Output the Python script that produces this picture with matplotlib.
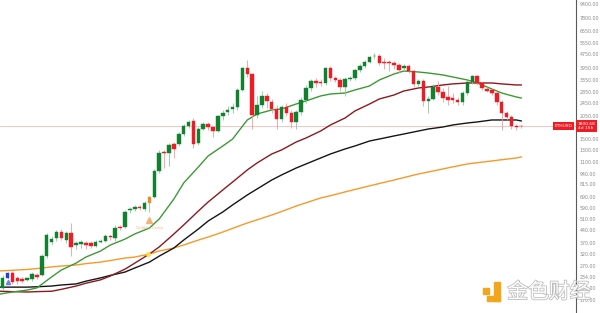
# -*- coding: utf-8 -*-

import matplotlib
matplotlib.use('Agg')
import matplotlib.pyplot as plt
import matplotlib.transforms as mtransforms
import matplotlib.patheffects as pe
from matplotlib.patches import Rectangle
from matplotlib.ticker import NullLocator


# weekly ETHUSD candles
OPENS = [201, 230, 246, 230, 227, 224, 227, 240, 240, 310,
         374, 395, 429, 385, 423, 359, 364, 369, 369, 355,
         374, 380, 406, 395, 459, 459, 577, 585, 601, 585,
         635, 689, 980, 1267, 1250, 1411, 1411, 1616, 1800, 1929,
         1430, 1729, 1852, 1777, 1683, 2064, 2179, 2269, 2331, 2935,
         3950, 3641, 2092, 2395, 2705, 2494, 2269, 1982, 2331, 2150,
         1903, 2179, 2562, 3016, 3314, 3270, 3226, 3950, 3451, 3359,
         3057, 3405, 3451, 3845, 4058, 4289, 4620, 4646, 4289, 4289,
         4230, 4115, 3950, 4058, 3795, 3183, 3314, 2528, 2597, 3057,
         2857, 2668, 2633, 2562, 2494, 2819, 3270, 3545, 3226, 2976,
         2935, 2819, 2494, 2150, 2037, 1800, 1800]
HIGHS = [240, 250, 252, 236, 233, 234, 248, 246, 318, 420,
         405, 440, 445, 435, 484, 380, 385, 378, 380, 382,
         392, 415, 412, 470, 470, 580, 600, 615, 615, 650,
         700, 1000, 1300, 1300, 1430, 1450, 1650, 1850, 1960, 2000,
         1780, 1900, 1900, 1800, 2100, 2250, 2350, 2450, 3000, 4000,
         4400, 3700, 2700, 2900, 2800, 2600, 2400, 2400, 2450, 2250,
         2250, 2650, 3150, 3400, 3450, 3400, 4000, 4050, 3550, 3450,
         3500, 3550, 3900, 4150, 4400, 4650, 4870, 4800, 4500, 4400,
         4350, 4200, 4150, 4150, 3850, 3400, 3400, 2700, 3200, 3300,
         3000, 3100, 2800, 2650, 2900, 3350, 3600, 3600, 3250, 3050,
         2980, 2850, 2550, 2200, 2100, 1850, 1830]
LOWS = [195, 228, 212, 212, 214, 220, 222, 228, 236, 300,
        360, 380, 385, 370, 310, 340, 345, 340, 345, 350,
        368, 372, 385, 380, 440, 450, 555, 570, 575, 570,
        560, 680, 950, 1020, 1050, 1170, 1380, 1580, 1750, 1330,
        1400, 1700, 1700, 1560, 1650, 1950, 2100, 2150, 2250, 2900,
        3500, 1729, 2000, 2300, 2300, 2150, 1729, 1900, 2050, 1750,
        1720, 2100, 2450, 2900, 3050, 3100, 3150, 3300, 3250, 2900,
        2700, 3300, 3350, 3750, 3950, 4200, 4450, 4100, 3900, 3800,
        3900, 3700, 3850, 3700, 3050, 3100, 2360, 2150, 2550, 2750,
        2500, 2400, 2450, 2400, 2400, 2750, 3200, 3150, 2950, 2850,
        2750, 2400, 1706, 1950, 1729, 1700, 1750]
CLOSES = [230, 246, 218, 221, 221, 230, 243, 233, 310, 412,
          390, 429, 395, 423, 350, 369, 374, 359, 355, 374,
          380, 406, 401, 453, 453, 562, 585, 601, 593, 635,
          689, 980, 1250, 1250, 1392, 1320, 1616, 1800, 1903, 1411,
          1729, 1852, 1777, 1683, 2064, 2150, 2239, 2331, 2935, 3950,
          3641, 2092, 2395, 2705, 2528, 2269, 1982, 2331, 2150, 1903,
          2179, 2562, 3016, 3314, 3226, 3226, 3950, 3451, 3359, 3057,
          3405, 3451, 3845, 4058, 4289, 4600, 4646, 4230, 4230, 4230,
          4115, 3845, 4058, 3795, 3183, 3314, 2528, 2597, 3057, 2857,
          2633, 2562, 2562, 2494, 2819, 3270, 3545, 3226, 3016, 2896,
          2819, 2494, 2150, 2037, 1800, 1777, 1790]
HIGHLIGHT = {1: '#2440d8', 30: '#f0892a'}  # signal candles

# moving averages, read at these candle positions
MA_X = [-0.5, 2, 5, 7, 10, 12, 15, 17, 20, 22, 25, 27, 30, 32, 35, 37,
        40, 42, 45, 47, 50, 52, 55, 57, 60, 62, 65, 67, 70, 72, 75, 77,
        80, 82, 85, 87, 90, 92, 95, 97, 100, 102, 105, 106]
MA_FAST = [185, 190, 195, 201, 233, 256, 281, 305, 331, 359, 389, 417,
           452, 511, 670, 832, 1033, 1200, 1373, 1509, 1953, 2118, 2236, 2266,
           2425, 2526, 2704, 2776, 2814, 2931, 3096, 3357, 3640, 3790, 3740, 3690,
           3592, 3496, 3357, 3223, 2971, 2814, 2666, 2630]
MA_MID = [192, 191, 190, 191, 192, 197, 206, 214, 224, 236, 259, 281,
          318, 350, 417, 471, 569, 643, 757, 843, 992, 1091, 1232, 1301,
          1449, 1530, 1682, 1825, 2007, 2206, 2425, 2595, 2739, 2892, 3012, 3052,
          3138, 3183, 3223, 3223, 3223, 3183, 3138, 3138]
MA_SLOW = [203, 203, 203, 204, 206, 209, 212, 220, 230, 238, 249, 263,
           285, 309, 345, 384, 446, 497, 562, 618, 707, 767, 866, 927,
           1019, 1076, 1167, 1232, 1319, 1373, 1469, 1509, 1573, 1615, 1682, 1728,
           1776, 1825, 1875, 1901, 1953, 1953, 1953, 1927]
MA_LONG = [253, 255, 258, 261, 267, 270, 274, 279, 285, 291, 301, 305,
           318, 331, 345, 359, 384, 400, 428, 450, 484, 505, 539, 565,
           609, 636, 679, 700, 737, 762, 800, 826, 866, 895, 940, 965,
           1006, 1035, 1076, 1095, 1121, 1140, 1167, 1183]

PRICE_TICKS = [9400, 7800, 6550, 5550, 4750, 3950, 3350, 2850, 2450, 2050,
               1500, 1300, 1100, 940, 815, 690, 590, 510, 440, 370,
               320, 270, 234, 200, 170]
LAST_PRICE = 1800
LAST_LABEL = '1800.68\n4d 15h'

UP_COLOR = '#12812f'
DOWN_COLOR = '#ee1c25'
UP_WICK = '#8cc99c'
DOWN_WICK = '#f39b9b'


def draw_candles(ax):
    xs = list(range(len(OPENS)))
    bottoms, heights, body_colors, wick_colors = [], [], [], []
    for i, (o, c) in enumerate(zip(OPENS, CLOSES)):
        bottoms.append(min(o, c))
        heights.append(abs(c - o))
        up = c >= o
        body_colors.append(HIGHLIGHT.get(i, UP_COLOR if up else DOWN_COLOR))
        wick_colors.append(UP_WICK if up else DOWN_WICK)
    ax.vlines(xs, LOWS, HIGHS, colors=wick_colors, linewidth=0.6, zorder=3)
    ax.bar(xs, heights, bottom=bottoms, width=0.72, color=body_colors,
           edgecolor=body_colors, linewidth=0.3, zorder=4)


fig = plt.figure(figsize=(6, 3.13), dpi=100)
ax = fig.add_axes([0, 0, 0.96, 1])
ax.set_yscale('log')

ax.axhline(LAST_PRICE, color='#f6b9b9', linewidth=0.6, zorder=1)

ax.plot(MA_X, MA_LONG, color='#f59a2a', linewidth=1.0, zorder=2)
ax.plot(MA_X, MA_SLOW, color='#151515', linewidth=1.0, zorder=2)
ax.plot(MA_X, MA_MID, color='#8a1a1f', linewidth=1.0, zorder=2)
ax.plot(MA_X, MA_FAST, color='#3c9a35', linewidth=1.0, zorder=2)

draw_candles(ax)

# signal markers
ax.plot([1], [218], marker='^', markersize=3, color='#6d7fe8', linestyle='none', zorder=5)
ax.plot([30], [504], marker='^', markersize=4, color='#f7b27a', linestyle='none', zorder=5)
ax.text(30, 452, 'Golden Cross', fontsize=3, color='#f4b27a', ha='center', va='center')
ax.plot([29.7], [318], marker='o', markersize=2.5, color='#f5e04a', linestyle='none', zorder=5)

ax.set_xlim(-0.55, 117.2)
ax.set_ylim(143, 9916)

ax.yaxis.tick_right()
ax.set_yticks(PRICE_TICKS)
ax.set_yticklabels(['{:.2f}'.format(v) for v in PRICE_TICKS])
ax.yaxis.set_minor_locator(NullLocator())
ax.tick_params(axis='y', labelsize=3.4, colors='#8a8a8a', length=0, pad=2.5)
ax.set_xticks([])
for side in ['top', 'left', 'bottom']:
    ax.spines[side].set_visible(False)
ax.spines['right'].set_color('#5a5a5a')
ax.spines['right'].set_linewidth(0.8)

# last price tags
trans = mtransforms.blended_transform_factory(ax.transAxes, ax.transData)
ax.text(1.003, LAST_PRICE, LAST_LABEL, transform=trans, fontsize=3.2, color='white',
        ha='left', va='center', linespacing=1.1, zorder=6,
        bbox=dict(boxstyle='square,pad=0.35', facecolor='#ee1c25', edgecolor='none'))
ax.text(0.994, LAST_PRICE, 'ETHUSD', transform=trans, fontsize=3.2, color='white',
        ha='right', va='center', zorder=6,
        bbox=dict(boxstyle='square,pad=0.35', facecolor='#ee1c25', edgecolor='none'))

# watermark
logo = '#f2a61e'
for x0, y0, w, h in [(483, 294, 6, 6), (494, 301, 6, 19), (487, 301, 13, 5)]:
    fig.patches.append(Rectangle((x0 / 600, 1 - y0 / 313), w / 600, h / 313,
                                 transform=fig.transFigure, color=logo, zorder=10))
fig.text(549 / 600, 1 - 292 / 313, '金色财经', fontsize=15, color='white',
         family=['Noto Sans CJK SC', 'DejaVu Sans'], ha='center', va='center', zorder=10,
         path_effects=[pe.withStroke(linewidth=1.2, foreground='#bdbdbd')])

fig.savefig('out.png', dpi=100, facecolor='white')
